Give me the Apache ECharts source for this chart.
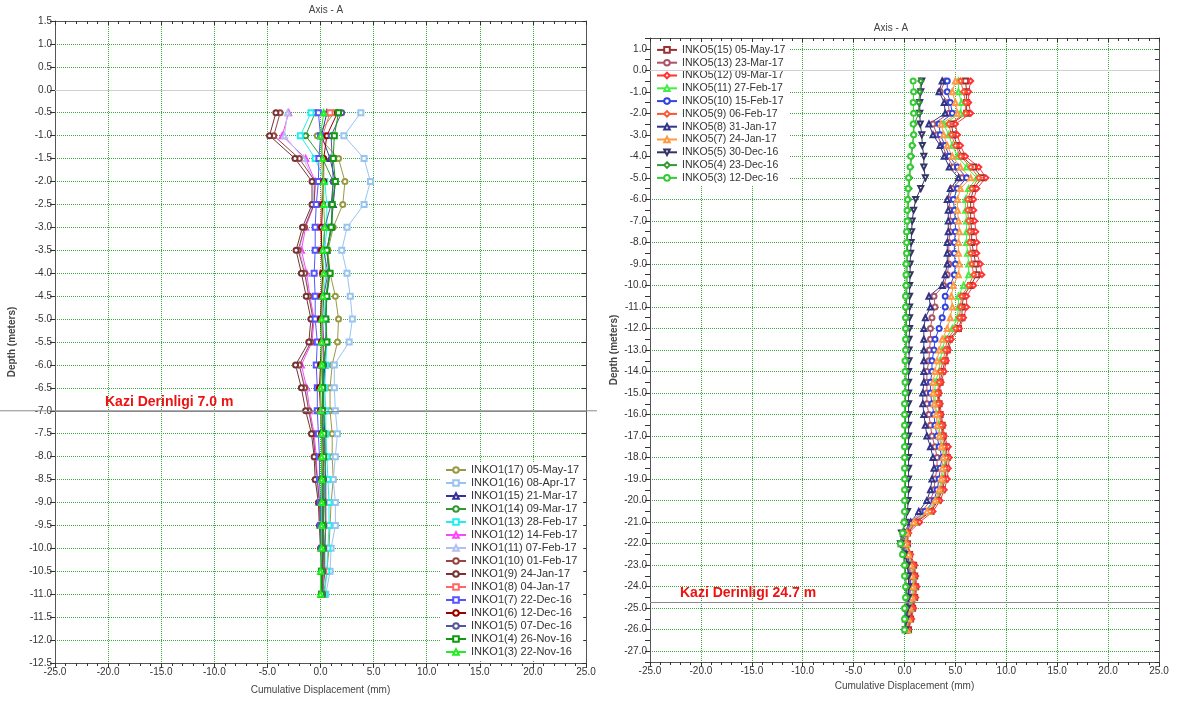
<!DOCTYPE html>
<html>
<head>
<meta charset="utf-8">
<script src="https://cdn.jsdelivr.net/npm/echarts@6/dist/echarts.min.js"></script>
<style>
  html, body { margin: 0; padding: 0; background: #fff; }
  #chart { width: 1180px; height: 709px; }
</style>
</head>
<body>
<div id="chart"></div>
<script>
// depths (m) for both inclinometers
let depth1 = [-0.5, -1.0, -1.5, -2.0, -2.5, -3.0, -3.5, -4.0, -4.5, -5.0, -5.5,
  -6.0, -6.5, -7.0, -7.5, -8.0, -8.5, -9.0, -9.5, -10.0, -10.5, -11.0];
let depth5 = [-0.5, -1.0, -1.5, -2.0, -2.5, -3.0, -3.5, -4.0, -4.5, -5.0,
  -5.5, -6.0, -6.5, -7.0, -7.5, -8.0, -8.5, -9.0, -9.5, -10.0,
  -10.5, -11.0, -11.5, -12.0, -12.5, -13.0, -13.5, -14.0, -14.5, -15.0,
  -15.5, -16.0, -16.5, -17.0, -17.5, -18.0, -18.5, -19.0, -19.5, -20.0,
  -20.5, -21.0, -21.5, -22.0, -22.5, -23.0, -23.5, -24.0, -24.5, -25.0,
  -25.5, -26.0];
// excavation depths (m)
let kazi1 = -7.0;
let kazi5 = -24.7;

// INKO1 readings (mm)
let names1 = ["INKO1(17) 05-May-17", "INKO1(16) 08-Apr-17", "INKO1(15) 21-Mar-17",
  "INKO1(14) 09-Mar-17", "INKO1(13) 28-Feb-17", "INKO1(12) 14-Feb-17",
  "INKO1(11) 07-Feb-17", "INKO1(10) 01-Feb-17", "INKO1(9) 24-Jan-17",
  "INKO1(8) 04-Jan-17", "INKO1(7) 22-Dec-16", "INKO1(6) 12-Dec-16",
  "INKO1(5) 07-Dec-16", "INKO1(4) 26-Nov-16", "INKO1(3) 22-Nov-16"];
let inko1_17 = [1.3, -0.3, 1.7, 2.3, 2.1, 1.2, 0.7, 0.9, 1.4, 1.7, 1.6, 1.1, 0.9, 0.9, 1.1, 1.1, 1.2, 1.0, 0.9, 0.8, 0.6, 0.3];
let inko1_16 = [3.8, 2.2, 4.1, 4.7, 4.1, 2.5, 2.0, 2.5, 2.8, 3.0, 2.7, 1.3, 1.3, 1.4, 1.6, 1.4, 1.2, 1.4, 1.4, 1.0, 0.9, 0.5];
let inko1_15 = [0.6, 0.1, 0.9, 1.4, 1.2, 1.0, 0.6, 0.8, 0.6, 0.5, 0.5, 0.4, 0.3, 0.3, 0.4, 0.4, 0.5, 0.5, 0.5, 0.4, 0.4, 0.2];
let inko1_14 = [-0.5, -1.4, 0.2, 1.2, 1.1, 1.1, 0.6, 0.8, 0.5, 0.5, 0.6, 0.3, 0.3, 0.3, 0.5, 0.5, 0.4, 0.4, 0.5, 0.4, 0.3, 0.2];
let inko1_13 = [-0.9, -1.9, -0.5, 0.4, 0.6, 0.6, 0.4, 0.5, 0.3, 0.4, 0.6, 0.5, 0.4, 0.5, 0.5, 0.6, 0.7, 0.8, 0.8, 0.7, 0.6, 0.4];
let inko1_12 = [-3.0, -3.6, -1.4, -0.5, -0.6, -1.4, -1.8, -1.3, -1.0, -0.6, -0.8, -1.8, -1.3, -1.0, -0.6, -0.4, -0.3, -0.1, 0.0, 0.1, 0.1, 0.1];
let inko1_11 = [-3.1, -3.4, -1.6, -0.6, -0.7, -1.5, -2.0, -1.4, -1.1, -0.7, -0.9, -2.0, -1.4, -1.1, -0.7, -0.5, -0.4, -0.2, -0.1, 0.0, 0.1, 0.1];
let inko1_10 = [-3.8, -4.4, -2.0, -0.5, -0.6, -1.5, -2.1, -1.5, -1.1, -0.7, -0.9, -2.0, -1.5, -1.1, -0.7, -0.5, -0.3, -0.1, 0.0, 0.1, 0.1, 0.1];
let inko1_9 = [-4.2, -4.8, -2.4, -0.8, -0.8, -1.7, -2.3, -1.8, -1.35, -0.9, -1.1, -2.35, -1.8, -1.4, -0.85, -0.6, -0.5, -0.2, -0.1, 0.0, 0.1, 0.1];
let inko1_8 = [0.9, 0.2, 0.1, 0.2, 0.1, 0.0, 0.1, 0.2, 0.1, 0.1, 0.2, 0.1, 0.0, 0.1, 0.2, 0.2, 0.2, 0.3, 0.3, 0.3, 0.3, 0.2];
let inko1_7 = [-0.2, 0.0, -0.15, -0.2, -0.4, -0.5, -0.5, -0.6, -0.5, -0.5, -0.3, -0.4, -0.3, -0.3, -0.2, -0.1, -0.1, 0.0, 0.0, 0.1, 0.1, 0.1];
let inko1_6 = [1.6, 0.6, 0.3, 0.3, 0.2, 0.1, 0.1, 0.2, 0.1, 0.0, 0.1, 0.0, -0.1, 0.0, 0.1, 0.1, 0.1, 0.2, 0.2, 0.2, 0.2, 0.1];
let inko1_5 = [2.0, 1.0, 1.1, 1.2, 1.0, 0.4, 0.3, 0.7, 0.3, 0.2, 0.3, 0.3, 0.2, 0.2, 0.2, 0.3, 0.3, 0.3, 0.3, 0.3, 0.2, 0.2];
let inko1_4 = [1.7, 1.3, 1.2, 1.4, 1.1, 1.0, 0.6, 0.9, 0.6, 0.5, 0.6, 0.2, 0.2, 0.2, 0.3, 0.3, 0.2, 0.2, 0.2, 0.2, 0.1, 0.1];
let inko1_3 = [0.3, 0.0, 0.2, 0.3, 0.3, 0.4, 0.2, 0.3, 0.2, 0.1, 0.1, 0.1, 0.0, 0.0, 0.1, 0.1, 0.1, 0.1, 0.1, 0.1, 0.0, 0.0];

// INKO5 readings (mm)
let names5 = ["INKO5(15) 05-May-17", "INKO5(13) 23-Mar-17", "INKO5(12) 09-Mar-17",
  "INKO5(11) 27-Feb-17", "INKO5(10) 15-Feb-17", "INKO5(9) 06-Feb-17",
  "INKO5(8) 31-Jan-17", "INKO5(7) 24-Jan-17", "INKO5(5) 30-Dec-16",
  "INKO5(4) 23-Dec-16", "INKO5(3) 12-Dec-16"];
let inko5_15 = [6.0, 6.1, 6.1, 6.1, 4.6, 4.8, 5.2, 5.65, 6.8, 7.6,
  6.8, 6.5, 6.5, 6.5, 6.6, 6.6, 6.8, 7.0, 7.1, 6.5,
  5.8, 5.65, 5.65, 5.3, 4.4, 4.2, 4.0, 3.7, 3.5, 3.3,
  3.4, 3.5, 3.7, 3.8, 4.1, 4.2, 4.1, 4.0, 3.7, 3.3,
  2.6, 1.2, 0.3, 0.3, 0.5, 0.9, 1.0, 1.1, 1.0, 0.8, 0.6, 0.4];
let inko5_13 = [4.0, 3.5, 4.3, 4.4, 2.8, 3.2, 3.7, 4.2, 4.8, 5.65,
  4.7, 4.35, 4.5, 4.5, 4.5, 4.35, 4.35, 4.35, 4.2, 3.85,
  2.9, 3.0, 2.7, 2.55, 2.55, 2.45, 2.4, 2.2, 2.2, 2.2,
  2.2, 2.4, 2.55, 2.7, 3.0, 3.2, 3.2, 3.0, 2.9, 2.55,
  1.7, 0.7, 0.0, -0.2, 0.2, 0.4, 0.5, 0.5, 0.4, 0.3, 0.2, 0.1];
let inko5_12 = [6.5, 6.3, 6.3, 6.5, 5.0, 5.2, 5.5, 6.0, 7.3, 8.0,
  7.1, 6.8, 6.8, 6.9, 7.0, 7.1, 7.1, 7.45, 7.6, 6.8,
  6.1, 6.1, 5.8, 5.4, 4.6, 4.3, 4.1, 3.9, 3.6, 3.4,
  3.5, 3.6, 3.8, 3.9, 4.3, 4.4, 4.3, 4.2, 3.9, 3.5,
  2.8, 1.5, 0.4, 0.3, 0.6, 1.0, 1.1, 1.2, 1.1, 0.9, 0.7, 0.4];
let inko5_11 = [5.3, 5.3, 5.6, 5.5, 3.85, 4.35, 4.7, 5.2, 6.1, 7.1,
  6.3, 6.0, 6.0, 6.1, 6.1, 6.1, 6.2, 6.3, 6.3, 5.8,
  5.3, 5.3, 5.2, 4.7, 4.0, 3.7, 3.5, 3.4, 3.0, 3.0,
  3.0, 3.2, 3.4, 3.5, 3.7, 4.0, 3.85, 3.7, 3.5, 3.1,
  2.4, 1.0, 0.2, 0.2, 0.4, 0.7, 0.8, 0.9, 0.8, 0.6, 0.4, 0.3];
let inko5_10 = [4.2, 4.2, 4.5, 4.7, 3.4, 3.5, 4.0, 4.4, 5.2, 6.1,
  5.2, 4.8, 4.9, 5.0, 5.0, 4.9, 4.9, 5.0, 4.9, 4.5,
  4.0, 4.0, 3.7, 3.4, 3.0, 2.9, 2.7, 2.7, 2.55, 2.55,
  2.7, 2.9, 3.0, 3.2, 3.4, 3.7, 3.5, 3.4, 3.2, 2.9,
  2.0, 0.8, 0.1, 0.0, 0.3, 0.5, 0.6, 0.6, 0.5, 0.4, 0.3, 0.2];
let inko5_9 = [5.5, 5.8, 6.0, 6.0, 4.35, 4.6, 5.0, 5.5, 6.5, 7.3,
  6.6, 6.2, 6.2, 6.3, 6.4, 6.4, 6.5, 6.6, 6.8, 6.3,
  5.6, 5.5, 5.4, 5.0, 4.2, 4.0, 3.8, 3.5, 3.4, 3.2,
  3.3, 3.4, 3.6, 3.7, 3.9, 4.1, 4.0, 3.85, 3.6, 3.2,
  2.5, 1.1, 0.3, 0.3, 0.5, 0.8, 0.9, 1.0, 0.9, 0.7, 0.5, 0.3];
let inko5_8 = [3.7, 3.4, 3.9, 4.0, 2.4, 2.8, 3.5, 3.9, 4.4, 5.3,
  4.5, 4.2, 4.3, 4.3, 4.3, 4.2, 4.2, 4.2, 4.0, 3.7,
  2.4, 2.55, 2.05, 1.9, 1.9, 1.9, 1.9, 1.9, 1.9, 1.8,
  1.8, 1.9, 2.05, 2.2, 2.55, 2.8, 2.9, 2.7, 2.55, 2.2,
  1.4, 0.6, -0.1, -0.3, 0.1, 0.3, 0.4, 0.4, 0.3, 0.2, 0.1, 0.1];
let inko5_7 = [5.0, 4.7, 5.0, 5.2, 3.6, 3.85, 4.2, 4.7, 5.5, 6.5,
  5.5, 5.2, 5.2, 5.3, 5.4, 5.3, 5.3, 5.4, 5.3, 4.8,
  4.6, 4.7, 4.5, 4.2, 3.7, 3.4, 3.2, 3.0, 2.8, 2.8,
  2.9, 3.1, 3.2, 3.4, 3.6, 3.8, 3.7, 3.6, 3.4, 3.0,
  2.2, 0.9, 0.2, 0.1, 0.4, 0.6, 0.7, 0.8, 0.7, 0.5, 0.4, 0.2];
let inko5_5 = [1.7, 1.6, 1.5, 1.5, 1.55, 1.7, 1.75, 1.9, 1.9, 2.05,
  1.6, 1.1, 0.9, 0.75, 0.7, 0.65, 0.6, 0.55, 0.55, 0.5,
  0.5, 0.5, 0.5, 0.5, 0.45, 0.45, 0.45, 0.4, 0.4, 0.4,
  0.4, 0.4, 0.4, 0.4, 0.4, 0.4, 0.4, 0.4, 0.4, 0.35,
  0.3, 0.1, -0.3, -0.4, 0.0, 0.3, 0.4, 0.4, 0.4, 0.3, 0.2, 0.1];
let inko5_4 = [1.6, 1.5, 1.4, 1.4, 0.95, 0.9, 0.8, 0.7, 0.6, 0.5,
  0.45, 0.4, 0.35, 0.35, 0.3, 0.3, 0.3, 0.25, 0.25, 0.25,
  0.2, 0.2, 0.2, 0.2, 0.2, 0.15, 0.15, 0.15, 0.15, 0.1,
  0.1, 0.1, 0.1, 0.1, 0.1, 0.1, 0.1, 0.1, 0.1, 0.1,
  0.1, 0.0, -0.1, -0.3, -0.1, 0.1, 0.1, 0.2, 0.2, 0.1, 0.1, 0.0];
let inko5_3 = [0.85, 0.9, 0.85, 0.9, 0.85, 0.9, 0.75, 0.6, 0.55, 0.4,
  0.35, 0.3, 0.25, 0.25, 0.2, 0.2, 0.2, 0.15, 0.15, 0.15,
  0.1, 0.1, 0.1, 0.1, 0.1, 0.1, 0.05, 0.05, 0.05, 0.05,
  0.0, 0.0, 0.0, 0.0, 0.0, 0.0, 0.0, 0.0, 0.0, 0.0,
  0.0, -0.05, -0.2, -0.4, -0.2, 0.0, 0.0, 0.1, 0.1, 0.0, 0.0, 0.0];

let values1 = [inko1_17, inko1_16, inko1_15, inko1_14, inko1_13, inko1_12, inko1_11,
  inko1_10, inko1_9, inko1_8, inko1_7, inko1_6, inko1_5, inko1_4, inko1_3];
let values5 = [inko5_15, inko5_13, inko5_12, inko5_11, inko5_10, inko5_9, inko5_8,
  inko5_7, inko5_5, inko5_4, inko5_3];

let colors1 = ["#999944", "#99c4f0", "#333399", "#339933", "#22eeee", "#ff44ff", "#b4c0ee",
  "#994444", "#773333", "#ff6666", "#5555ff", "#990000", "#555599", "#119911", "#22ee22"];
let symbols1 = ["emptyCircle", "emptyRect", "emptyTriangle", "emptyCircle", "emptyRect", "emptyTriangle",
  "emptyTriangle", "emptyCircle", "emptyCircle", "emptyRect", "emptyRect", "emptyCircle",
  "emptyCircle", "emptyRect", "emptyTriangle"];
let colors5 = ["#993333", "#aa5566", "#ff3333", "#44ee44", "#3344dd", "#ff5533", "#333388",
  "#ff9944", "#333366", "#339933", "#33cc33"];
let symbols5 = ["emptyRect", "emptyCircle", "emptyDiamond", "emptyTriangle", "emptyCircle", "emptyDiamond",
  "emptyTriangle", "emptyTriangle", "emptyTriangle", "emptyDiamond", "emptyCircle"];
let rotate5 = [0, 0, 0, 0, 0, 0, 0, 0, 180, 0, 0];

const FONT = "Liberation Sans, Arial, sans-serif";
const GRID_GREEN = "#3aa83a";

function xAxisPair(gridIndex, nameGap) {
  return [
    {
      gridIndex: gridIndex, type: "value", min: -25, max: 25, interval: 5,
      name: "Cumulative Displacement (mm)", nameLocation: "middle", nameGap: nameGap,
      nameTextStyle: { fontSize: 10, color: "#444", fontFamily: FONT },
      axisLine: { onZero: false, lineStyle: { color: "#555" } },
      axisTick: { inside: false, length: 5, lineStyle: { color: "#333" } },
      minorTick: { show: true, splitNumber: 5, length: 3, lineStyle: { color: "#333" } },
      axisLabel: { fontSize: 10, color: "#333", fontFamily: FONT, margin: 4,
        formatter: (v) => v.toFixed(1) },
      splitLine: { show: true, lineStyle: { color: GRID_GREEN, type: "dotted", width: 1 } },
    },
    {
      gridIndex: gridIndex, type: "value", min: -25, max: 25, interval: 5, position: "top",
      axisLine: { onZero: false, lineStyle: { color: "#555" } },
      axisTick: { inside: true, length: 4, lineStyle: { color: "#333" } },
      minorTick: { show: true, splitNumber: 5, length: 3, lineStyle: { color: "#333" } },
      axisLabel: { show: false },
      splitLine: { show: false },
    },
  ];
}

function yAxisPair(gridIndex, min, max, interval, nameGap, labelFmt, splitColor) {
  return [
    {
      gridIndex: gridIndex, type: "value", min: min, max: max, interval: interval, position: "left",
      name: "Depth (meters)", nameLocation: "middle", nameGap: nameGap, nameRotate: 90,
      nameTextStyle: { fontSize: 10, color: "#444", fontWeight: "bold", fontFamily: FONT },
      axisLine: { onZero: false, lineStyle: { color: "#555" } },
      axisTick: { inside: false, length: 5, lineStyle: { color: "#333" } },
      axisLabel: { fontSize: 10, color: "#333", fontFamily: FONT, margin: 3, formatter: labelFmt },
      splitLine: { show: true, lineStyle: { color: splitColor, type: "dotted", width: 1 } },
    },
    {
      gridIndex: gridIndex, type: "value", min: min, max: max, interval: interval, position: "right",
      axisLine: { onZero: false, lineStyle: { color: "#555" } },
      axisTick: { inside: true, length: 4, lineStyle: { color: "#333" } },
      axisLabel: { show: false },
      splitLine: { show: false },
    },
  ];
}

let series = [];
for (let n = 0; n < values1.length; n++) {
  series.push({
    name: names1[n], type: "line", xAxisIndex: 0, yAxisIndex: 0,
    data: values1[n].map((v, i) => [v, depth1[i]]),
    symbol: symbols1[n], symbolSize: 5,
    lineStyle: { width: 1, color: colors1[n] },
    itemStyle: { color: colors1[n], borderWidth: 1 },
  });
}
for (let n = 0; n < values5.length; n++) {
  series.push({
    name: names5[n], type: "line", xAxisIndex: 2, yAxisIndex: 2,
    data: values5[n].map((v, i) => [v, depth5[i]]),
    symbol: symbols5[n], symbolRotate: rotate5[n], symbolSize: 5,
    lineStyle: { width: 1, color: colors5[n] },
    itemStyle: { color: colors5[n], borderWidth: 1 },
  });
}

// excavation depth and zero lines
function refLines(depth, text, dx) {
  return {
    silent: true, symbol: "none", animation: false,
    data: [
      { yAxis: 0, lineStyle: { color: "#d0d0d0", type: "solid", width: 1 }, label: { show: false } },
      {
        yAxis: depth, lineStyle: { color: "#8a8a8a", type: "solid", width: 1 },
        label: { show: true, formatter: text, position: "insideStartTop", distance: [dx, 2],
          color: "#ee1111", fontWeight: "bold", fontSize: 14, fontFamily: FONT },
      },
    ],
  };
}
series[0].markLine = refLines(kazi1, "Kazi Derinligi 7.0 m", 50);
series[values1.length].markLine = refLines(kazi5, "Kazi Derinligi 24.7 m", 30);

let option = {
  backgroundColor: "#fff",
  animation: false,
  title: [
    { text: "Axis - A", left: 321, top: 0, textAlign: "center",
      textStyle: { fontSize: 10, fontWeight: "normal", color: "#444", fontFamily: FONT } },
    { text: "Axis - A", left: 886, top: 18, textAlign: "center",
      textStyle: { fontSize: 10, fontWeight: "normal", color: "#444", fontFamily: FONT } },
  ],
  legend: [
    {
      data: names1, orient: "vertical", left: 441, top: 462,
      itemGap: 1, itemWidth: 20, itemHeight: 7, padding: [2, 4],
      backgroundColor: "#fff",
      textStyle: { fontSize: 11, color: "#333", fontFamily: FONT, lineHeight: 12 },
    },
    {
      data: names5, orient: "vertical", left: 652, top: 42,
      itemGap: 1, itemWidth: 20, itemHeight: 7, padding: [2, 4],
      backgroundColor: "#fff",
      textStyle: { fontSize: 10.5, color: "#333", fontFamily: FONT, lineHeight: 11.8 },
    },
  ],
  grid: [
    { left: 55, top: 21, width: 531, height: 642 },
    { left: 650, top: 38, width: 509, height: 624 },
  ],
  xAxis: [].concat(xAxisPair(0, 22), xAxisPair(1, 18)),
  yAxis: [].concat(
    yAxisPair(0, -12.5, 1.5, 0.5, 38, (v) => v.toFixed(1), GRID_GREEN),
    yAxisPair(1, -27.5, 1.5, 0.5, 31,
      (v) => (Math.abs(v - Math.round(v)) < 1e-6 ? v.toFixed(1) : ""),
      ["rgba(0,0,0,0)", GRID_GREEN])
  ),
  series: series,
};

let chart = echarts.init(document.getElementById("chart"));
chart.setOption(option);

// the 7.0 m line runs on past both edges of the left plot
let yKazi = chart.convertToPixel({ yAxisIndex: 0 }, kazi1);
chart.setOption({
  graphic: [
    { type: "line", silent: true, z: 1,
      shape: { x1: 0, y1: yKazi, x2: 597, y2: yKazi },
      style: { stroke: "#8a8a8a", lineWidth: 1 } },
  ],
});
</script>
</body>
</html>
